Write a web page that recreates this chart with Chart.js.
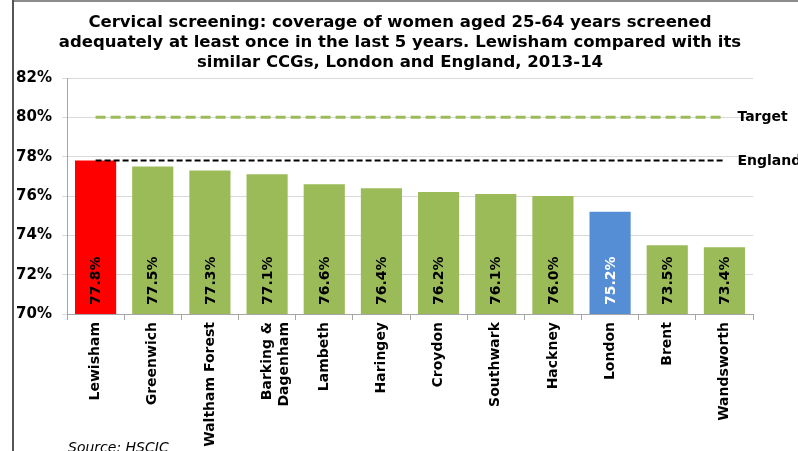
<!DOCTYPE html>
<html>
<head>
<meta charset="utf-8">
<script src="https://cdn.jsdelivr.net/npm/chart.js@4"></script>
<style>
html,body{margin:0;padding:0;background:#fff;}
#wrap{width:798px;height:451px;position:relative;}
</style>
</head>
<body>
<div id="wrap"><canvas id="c" width="798" height="451"></canvas></div>
<script>
const categories = ['Lewisham','Greenwich','Waltham Forest',['Barking &','Dagenham'],'Lambeth','Haringey','Croydon','Southwark','Hackney','London','Brent','Wandsworth'];
const coverage = [77.8, 77.5, 77.3, 77.1, 76.6, 76.4, 76.2, 76.1, 76.0, 75.2, 73.5, 73.4];
const targetValue = 80;
const englandValue = 77.8;
const yTicks = [70, 72, 74, 76, 78, 80, 82];
const titleLines = ['Cervical screening: coverage of women aged 25-64 years screened','adequately at least once in the last 5 years. Lewisham compared with its','similar CCGs, London and England, 2013-14'];
const sourceText = 'Source: HSCIC';

const GREEN = '#9bbb59', RED = '#ff0000', BLUE = '#558ed5';
const barColors = categories.map(c => c === 'Lewisham' ? RED : (c === 'London' ? BLUE : GREEN));
const FONT = '"DejaVu Sans", Verdana, sans-serif';

const decor = {
  id: 'decor',
  beforeDraw(chart) {
    const ctx = chart.ctx;
    ctx.save();
    ctx.fillStyle = '#fff';
    ctx.fillRect(0, 0, 798, 451);
    // frame
    ctx.fillStyle = '#8c8c8c';
    ctx.fillRect(12, 0, 786, 2);
    ctx.fillStyle = '#555';
    ctx.fillRect(12, 0, 2, 451);
    // title
    ctx.fillStyle = '#000';
    ctx.font = 'bold 16.5px ' + FONT;
    ctx.textAlign = 'center';
    ctx.textBaseline = 'middle';
    titleLines.forEach((t, i) => ctx.fillText(t, 400, 23 + i * 20));
    // source
    ctx.font = 'italic 14px ' + FONT;
    ctx.textAlign = 'left';
    ctx.textBaseline = 'alphabetic';
    ctx.fillText(sourceText, 68, 452);
    ctx.restore();
  },
  afterDatasetsDraw(chart) {
    const ctx = chart.ctx;
    const meta = chart.getDatasetMeta(2);
    const y = chart.scales.y;
    ctx.save();
    ctx.font = 'bold 14px ' + FONT;
    meta.data.forEach((bar, i) => {
      ctx.save();
      ctx.translate(bar.x, y.bottom - 9);
      ctx.rotate(-Math.PI / 2);
      ctx.fillStyle = categories[i] === 'London' ? '#fff' : '#000';
      ctx.textAlign = 'left';
      ctx.textBaseline = 'middle';
      ctx.fillText(coverage[i].toFixed(1) + '%', 0, 1);
      ctx.restore();
    });
    // line labels
    const lastX = chart.getDatasetMeta(0).data[categories.length - 1].x;
    ctx.fillStyle = '#000';
    ctx.textAlign = 'left';
    ctx.textBaseline = 'middle';
    ctx.fillText('Target', lastX + 13, y.getPixelForValue(targetValue));
    ctx.fillText('England', lastX + 13, y.getPixelForValue(englandValue) + 1);
    ctx.restore();
  }
};

new Chart(document.getElementById('c'), {
  data: {
    labels: categories,
    datasets: [
      { type: 'line', label: 'Target', data: categories.map(() => targetValue), borderColor: GREEN, borderWidth: 3, borderDash: [10, 5], pointRadius: 0, fill: false, order: 0 },
      { type: 'line', label: 'England', data: categories.map(() => englandValue), borderColor: '#000', borderWidth: 2, borderDash: [6, 3], pointRadius: 0, fill: false, order: 0 },
      { type: 'bar', label: 'Coverage', data: coverage, backgroundColor: barColors, borderWidth: 0, categoryPercentage: 1, barPercentage: 0.72, order: 1 }
    ]
  },
  options: {
    responsive: false,
    animation: false,
    events: [],
    layout: { padding: { top: 78, left: 0, right: 45, bottom: 0 } },
    plugins: { legend: { display: false }, tooltip: { enabled: false }, title: { display: false } },
    scales: {
      x: {
        offset: true,
        grid: { display: true, drawOnChartArea: false, drawTicks: true, tickLength: 6, color: '#a6a6a6', offset: true },
        border: { display: true, color: '#a6a6a6', width: 1 },
        ticks: { minRotation: 90, maxRotation: 90, autoSkip: false, padding: 2, color: '#000', font: { family: FONT, size: 14, weight: 'bold' } },
        afterFit(s) { s.height = 137; }
      },
      y: {
        min: 70, max: 82,
        afterBuildTicks(s) { s.ticks = yTicks.map(v => ({ value: v })); },
        grid: { color: '#d9d9d9', lineWidth: 1, drawTicks: true, tickLength: 5 },
        border: { display: true, color: '#a6a6a6', width: 1 },
        ticks: { padding: 10, color: '#000', callback: v => v + '%', font: { family: FONT, size: 15, weight: 'bold' } },
        afterFit(s) { s.width = 67; }
      }
    }
  },
  plugins: [decor]
});
</script>
</body>
</html>
